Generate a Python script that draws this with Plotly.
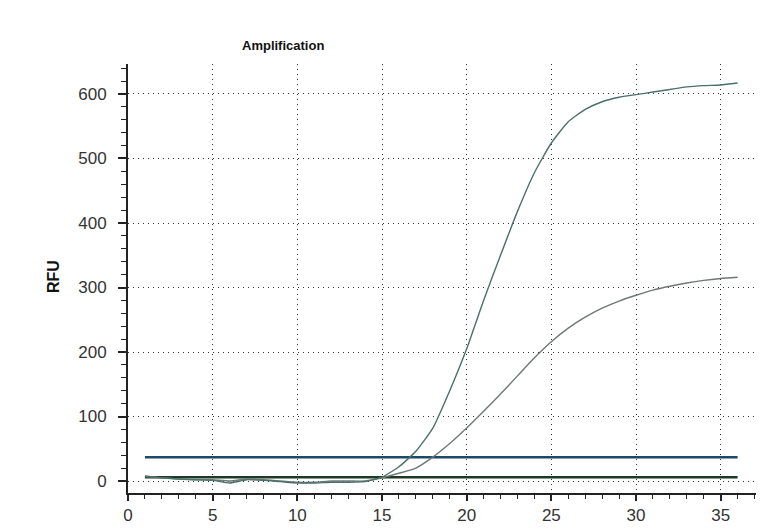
import plotly.graph_objects as go

cycles = list(range(1, 37))
sample_high = [8, 5, 3, 2, 1, -3, 2, 1, -1, -3, -3, -2, -2, -1, 6, 22, 46, 82, 140, 205,
               280, 350, 418, 478, 524, 557, 576, 588, 595, 599, 603, 607, 611, 613, 614, 617]
sample_low = [7, 5, 3, 2, 2, 0, 3, 2, 0, -2, -2, 0, 0, 0, 5, 12, 20, 37, 58, 82,
              108, 135, 163, 191, 216, 237, 254, 268, 279, 288, 296, 302, 307, 311, 314, 316]
threshold_blue = 37
threshold_green = 6

x_ticks = [0, 5, 10, 15, 20, 25, 30, 35]
y_ticks = [0, 100, 200, 300, 400, 500, 600]

fig = go.Figure()
fig.add_trace(go.Scatter(x=cycles, y=[threshold_green] * len(cycles), mode="lines",
                         line=dict(color="#1b3b26", width=2.5), hoverinfo="skip", showlegend=False))
fig.add_trace(go.Scatter(x=cycles, y=[threshold_blue] * len(cycles), mode="lines",
                         line=dict(color="#1d4866", width=2.5), hoverinfo="skip", showlegend=False))
fig.add_trace(go.Scatter(x=cycles, y=sample_low, mode="lines",
                         line=dict(color="#6f7876", width=1.4, shape="spline", smoothing=0.5), showlegend=False))
fig.add_trace(go.Scatter(x=cycles, y=sample_high, mode="lines",
                         line=dict(color="#4b706b", width=1.4, shape="spline", smoothing=0.5), showlegend=False))

xr = [0, 37.5]
yr = [-18.6, 646.5]
font = dict(family="Liberation Sans, Arial, sans-serif", size=17, color="#333333")
grid_dash = "1px,4px"

fig.update_layout(
    width=756, height=523,
    margin=dict(l=120, r=1, t=56, b=38),
    paper_bgcolor="white", plot_bgcolor="white",
    showlegend=False,
    xaxis=dict(range=xr, tickvals=x_ticks, ticks="outside", ticklen=6, tickwidth=1.5, tickcolor="#222",
               showline=True, linewidth=2, linecolor="#222",
               minor=dict(dtick=1, tick0=0, ticks="outside", ticklen=4, tickwidth=1, tickcolor="#222", showgrid=False),
               showgrid=True, gridcolor="#333", griddash=grid_dash, gridwidth=1,
               zeroline=False, tickfont=font, ticklabelstandoff=0),
    yaxis=dict(range=yr, tickvals=y_ticks, ticks="outside", ticklen=8, tickwidth=1.5, tickcolor="#222",
               showline=True, linewidth=2, linecolor="#222",
               minor=dict(dtick=20, tick0=0, ticks="outside", ticklen=5, tickwidth=1, tickcolor="#222", showgrid=False),
               showgrid=True, gridcolor="#333", griddash=grid_dash, gridwidth=1,
               zeroline=False, tickfont=font, ticklabelstandoff=8),
    xaxis2=dict(range=xr, overlaying="x", side="bottom", anchor="y", tickvals=x_ticks,
                ticks="inside", ticklen=4, tickwidth=1.5, tickcolor="#222", showticklabels=False,
                minor=dict(dtick=1, tick0=0, ticks="inside", ticklen=4, tickwidth=1, tickcolor="#222"),
                showgrid=False, zeroline=False, showline=False),
    xaxis3=dict(range=xr, overlaying="x", side="top", anchor="y", tickvals=x_ticks,
                ticks="inside", ticklen=5, tickwidth=1.5, tickcolor="#222", showticklabels=False,
                minor=dict(dtick=1, tick0=0, ticks="inside", ticklen=4, tickwidth=1, tickcolor="#222"),
                showgrid=False, zeroline=False, showline=True, linewidth=2, linecolor="#222"),
    yaxis2=dict(range=yr, overlaying="y", side="left", anchor="x", tickvals=y_ticks,
                ticks="inside", ticklen=5, tickwidth=1.5, tickcolor="#222", showticklabels=False,
                minor=dict(dtick=20, tick0=0, ticks="inside", ticklen=5, tickwidth=1, tickcolor="#222"),
                showgrid=False, zeroline=False, showline=False),
    yaxis3=dict(range=yr, overlaying="y", side="right", anchor="x", tickvals=y_ticks,
                ticks="inside", ticklen=5, tickwidth=1.5, tickcolor="#222", showticklabels=False,
                minor=dict(dtick=20, tick0=0, ticks="inside", ticklen=3, tickwidth=1, tickcolor="#222"),
                showgrid=False, zeroline=False, showline=True, linewidth=2, linecolor="#222"),
    annotations=[
        dict(text="<b>Amplification</b>", xref="paper", yref="paper", x=0.244, y=1.044,
             xanchor="center", yanchor="middle", showarrow=False,
             font=dict(family="Liberation Sans Narrow, Liberation Sans, Arial, sans-serif", size=13, color="#111")),
        dict(text="<b>RFU</b>", xref="paper", yref="paper", x=-0.1165, y=0.5035, textangle=-90,
             xanchor="center", yanchor="middle", showarrow=False,
             font=dict(family="Liberation Sans, Arial, sans-serif", size=16, color="#111")),
    ],
)

fig.write_html("out.html")
